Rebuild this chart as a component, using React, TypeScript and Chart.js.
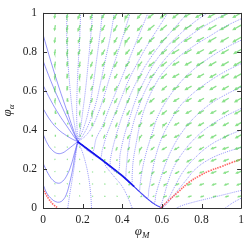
import { useEffect, useRef } from "react";
import { Chart, registerables } from "chart.js";

Chart.register(...registerables);

type P = [number, number];

const X_TICKS = [0, 0.2, 0.4, 0.6, 0.8, 1];
const Y_TICKS = [0, 0.2, 0.4, 0.6, 0.8, 1];
const X_TITLE = ["φ", "M"];
const Y_TITLE = ["φ", "α"];
const FONT = "'Liberation Serif', 'DejaVu Serif', serif";

// slow manifold toward the stable point (0.175, 0.34)
const MANIFOLD: P[] = [[0.6, 0], [0.57, 0.015], [0.53, 0.045], [0.47, 0.1], [0.4, 0.165], [0.3, 0.245], [0.175, 0.34]];
// strongly populated part of the manifold
const MANIFOLD_DARK: P[] = [[0.46, 0.11], [0.4, 0.165], [0.3, 0.245], [0.175, 0.34]];

// trajectories starting on the left edge
const LEFT_TRAJ: P[][] = [
  [[0, 0.122], [0.02, 0.075], [0.045, 0.045], [0.065, 0.032], [0.083, 0.03], [0.1, 0.04], [0.118, 0.07], [0.135, 0.13], [0.15, 0.2], [0.163, 0.28], [0.175, 0.34]],
  [[0, 0.23], [0.025, 0.178], [0.05, 0.142], [0.077, 0.127], [0.1, 0.138], [0.122, 0.17], [0.142, 0.22], [0.16, 0.285], [0.175, 0.34]],
  [[0, 0.38], [0.025, 0.325], [0.05, 0.293], [0.075, 0.279], [0.1, 0.283], [0.125, 0.3], [0.15, 0.32], [0.175, 0.34]],
  [[0, 0.51], [0.04, 0.445], [0.08, 0.4], [0.12, 0.37], [0.15, 0.352], [0.175, 0.34]],
  [[0, 0.63], [0.04, 0.55], [0.08, 0.48], [0.12, 0.42], [0.15, 0.375], [0.175, 0.34]],
  [[0, 0.755], [0.04, 0.65], [0.08, 0.555], [0.12, 0.465], [0.15, 0.395], [0.175, 0.34]],
  [[0, 0.89], [0.04, 0.75], [0.08, 0.62], [0.12, 0.5], [0.15, 0.41], [0.175, 0.34]],
];

// trajectories starting on the top edge
const TOP_TRAJ: P[][] = [
  [[0.12, 1], [0.12, 0.88], [0.125, 0.76], [0.135, 0.63], [0.148, 0.5], [0.162, 0.41], [0.175, 0.34]],
  [[0.19, 1], [0.185, 0.87], [0.178, 0.74], [0.172, 0.6], [0.17, 0.48], [0.172, 0.4], [0.175, 0.34]],
  [[0.25, 1], [0.24, 0.87], [0.228, 0.74], [0.215, 0.61], [0.2, 0.49], [0.188, 0.4], [0.175, 0.34]],
  [[0.3, 1], [0.285, 0.87], [0.268, 0.74], [0.25, 0.61], [0.23, 0.5], [0.205, 0.41], [0.175, 0.34]],
  [[0.36, 1], [0.34, 0.88], [0.315, 0.76], [0.29, 0.64], [0.265, 0.53], [0.235, 0.44], [0.2, 0.37], [0.175, 0.34]],
  [[0.44, 1], [0.41, 0.9], [0.375, 0.79], [0.34, 0.68], [0.31, 0.58], [0.28, 0.49], [0.25, 0.42], [0.215, 0.37], [0.175, 0.34]],
  [[0.53, 1], [0.49, 0.9], [0.45, 0.8], [0.41, 0.7], [0.37, 0.6], [0.33, 0.5], [0.3, 0.42], [0.27, 0.36], [0.245, 0.287]],
  [[0.63, 1], [0.58, 0.92], [0.53, 0.84], [0.48, 0.75], [0.43, 0.65], [0.39, 0.55], [0.35, 0.45], [0.32, 0.37], [0.3, 0.3], [0.285, 0.256]],
  [[0.73, 1], [0.67, 0.93], [0.61, 0.86], [0.55, 0.78], [0.5, 0.7], [0.45, 0.6], [0.41, 0.5], [0.38, 0.41], [0.355, 0.32], [0.34, 0.25], [0.335, 0.217]],
  [[0.83, 1], [0.76, 0.95], [0.69, 0.89], [0.62, 0.82], [0.56, 0.74], [0.51, 0.65], [0.47, 0.56], [0.44, 0.47], [0.41, 0.37], [0.39, 0.28], [0.375, 0.185]],
  [[0.93, 1], [0.86, 0.96], [0.78, 0.91], [0.7, 0.85], [0.63, 0.78], [0.57, 0.7], [0.52, 0.61], [0.48, 0.51], [0.45, 0.41], [0.43, 0.3], [0.42, 0.2], [0.415, 0.151]],
];

// trajectories starting on the right edge (above the separatrix)
const RIGHT_TRAJ: P[][] = [
  [[1, 0.97], [0.92, 0.93], [0.84, 0.88], [0.76, 0.83], [0.68, 0.77], [0.61, 0.7], [0.56, 0.62], [0.52, 0.53], [0.49, 0.43], [0.47, 0.33], [0.455, 0.24], [0.45, 0.17], [0.445, 0.123]],
  [[1, 0.86], [0.92, 0.82], [0.84, 0.77], [0.76, 0.71], [0.69, 0.64], [0.63, 0.56], [0.58, 0.47], [0.55, 0.38], [0.52, 0.28], [0.5, 0.19], [0.49, 0.12], [0.485, 0.086]],
  [[1, 0.74], [0.92, 0.7], [0.84, 0.65], [0.76, 0.59], [0.69, 0.52], [0.64, 0.44], [0.6, 0.36], [0.57, 0.27], [0.55, 0.18], [0.535, 0.1], [0.525, 0.05]],
  [[1, 0.62], [0.92, 0.58], [0.84, 0.53], [0.77, 0.47], [0.71, 0.4], [0.66, 0.32], [0.62, 0.23], [0.59, 0.14], [0.57, 0.07], [0.56, 0.025]],
  [[1, 0.51], [0.92, 0.47], [0.84, 0.42], [0.77, 0.36], [0.71, 0.29], [0.66, 0.21], [0.63, 0.13], [0.61, 0.06], [0.595, 0.015], [0.585, 0.008]],
  [[1, 0.4], [0.92, 0.365], [0.84, 0.32], [0.77, 0.26], [0.71, 0.19], [0.67, 0.12], [0.64, 0.06], [0.615, 0.02], [0.6, 0.005]],
  [[1, 0.31], [0.92, 0.285], [0.84, 0.25], [0.77, 0.2], [0.72, 0.14], [0.68, 0.09], [0.645, 0.045], [0.62, 0.015], [0.605, 0.003]],
];

// trajectories starting on the bottom edge
const BOTTOM_TRAJ: P[][] = [
  [[0.125, 0], [0.135, 0.07], [0.148, 0.15], [0.16, 0.23], [0.168, 0.29], [0.175, 0.34]],
  [[0.245, 0], [0.24, 0.08], [0.228, 0.17], [0.21, 0.25], [0.19, 0.31], [0.175, 0.34]],
  [[0.45, 0], [0.43, 0.05], [0.4, 0.11], [0.36, 0.16], [0.32, 0.21], [0.3, 0.245]],
];

// trajectories below the separatrix, leaving through the bottom
const BELOW_TRAJ: P[][] = [
  [[1, 0.09], [0.92, 0.07], [0.84, 0.05], [0.76, 0.03], [0.7, 0.012], [0.675, 0]],
  [[1, 0.05], [0.96, 0.028], [0.92, 0]],
];

// separatrices (red)
const RED_CURVES: P[][] = [
  [[0, 0.1], [0.015, 0.07], [0.03, 0.045], [0.05, 0.02], [0.075, 0]],
  [[0.595, 0], [0.63, 0.035], [0.68, 0.08], [0.735, 0.13], [0.79, 0.165], [0.84, 0.19], [0.9, 0.212], [0.95, 0.232], [1, 0.25]],
];

// direction field grid
const ARROW_COLS = [0.0625, 0.125, 0.1875, 0.25, 0.3125, 0.375, 0.4375, 0.5, 0.5625, 0.625, 0.6875, 0.75, 0.8125, 0.875, 0.9375, 1];
const ARROW_ROWS = [1, 0.9375, 0.875, 0.8125, 0.75, 0.6875, 0.625, 0.5625, 0.5, 0.4375, 0.375, 0.3125, 0.25, 0.1875, 0.125, 0.0625];
// angle below horizontal (tens of degrees), arrows point down-left
const ARROW_ANGLE = [
  "8877665544433333",
  "8877665544433333",
  "8877665544433333",
  "8877665544333333",
  "8887665544333333",
  "8887765544333333",
  "8887765544333333",
  "8887766544333333",
  "9888766544333333",
  "9988776544333333",
  "9998776543333333",
  "1128876543333222",
  "2229876543332222",
  "2229876443322222",
  "2229876433222222",
  "2229876432222222",
];
// arrow length (px)
const ARROW_LEN = [
  "5566677788889999",
  "5566677788889999",
  "5556667778888999",
  "4555666777888888",
  "4455566677778888",
  "4445556667777788",
  "4444555666777777",
  "3344455566666777",
  "3334445556666677",
  "2233444555566666",
  "2222334455556666",
  "1112233445555566",
  "1111223344455555",
  "1111122334444555",
  "1111112233344444",
  "1111111223333333",
];

const PX = 200; // pixels per data unit (square plot)

function withManifold(pts: P[]): P[] {
  const last = pts[pts.length - 1];
  return pts.concat(MANIFOLD.filter(([mx]) => mx < last[0] - 1e-9));
}

function toXY(pts: P[]) {
  return pts.map(([x, y]) => ({ x, y }));
}

function arrowData() {
  const pts: { x: number; y: number | null }[] = [];
  ARROW_ROWS.forEach((y, r) => {
    ARROW_COLS.forEach((x, c) => {
      const a = (Number(ARROW_ANGLE[r][c]) * 10 * Math.PI) / 180;
      const lp = Number(ARROW_LEN[r][c]);
      const L = lp / PX;
      const hx = x - Math.cos(a) * L;
      const hy = y - Math.sin(a) * L;
      pts.push({ x, y }, { x: hx, y: hy }, { x: hx, y: null });
      if (lp >= 3) {
        const h = Math.min(2.6, lp * 0.4) / PX;
        const b1x = hx + Math.cos(a + 0.45) * h;
        const b1y = hy + Math.sin(a + 0.45) * h;
        const b2x = hx + Math.cos(a - 0.45) * h;
        const b2y = hy + Math.sin(a - 0.45) * h;
        pts.push({ x: b1x, y: b1y }, { x: hx, y: hy }, { x: b2x, y: b2y }, { x: hx, y: null });
      }
    });
  });
  return pts;
}

const framePlugin = {
  id: "frame",
  afterDatasetsDraw(chart: any) {
    const { ctx, chartArea: a, scales } = chart;
    ctx.save();
    ctx.strokeStyle = "#333";
    ctx.lineWidth = 1;
    ctx.beginPath();
    ctx.rect(Math.round(a.left) + 0.5, Math.round(a.top) + 0.5, Math.round(a.right - a.left), Math.round(a.bottom - a.top));
    ctx.stroke();
    const t = 4;
    ctx.beginPath();
    X_TICKS.forEach((v) => {
      const px = Math.round(scales.x.getPixelForValue(v)) + 0.5;
      ctx.moveTo(px, a.bottom);
      ctx.lineTo(px, a.bottom - t);
      ctx.moveTo(px, a.top);
      ctx.lineTo(px, a.top + t);
    });
    Y_TICKS.forEach((v) => {
      const py = Math.round(scales.y.getPixelForValue(v)) + 0.5;
      ctx.moveTo(a.left, py);
      ctx.lineTo(a.left + t, py);
      ctx.moveTo(a.right, py);
      ctx.lineTo(a.right - t, py);
    });
    ctx.stroke();

    // axis titles with subscripts
    ctx.fillStyle = "#222";
    ctx.textBaseline = "alphabetic";
    const cx = (a.left + a.right) / 2;
    ctx.font = `italic 13px ${FONT}`;
    ctx.textAlign = "left";
    const w1 = ctx.measureText(X_TITLE[0]).width;
    ctx.font = `italic 9px ${FONT}`;
    const w2 = ctx.measureText(X_TITLE[1]).width;
    let x0 = cx - (w1 + w2) / 2;
    ctx.font = `italic 13px ${FONT}`;
    ctx.fillText(X_TITLE[0], x0, 235);
    ctx.font = `italic 9px ${FONT}`;
    ctx.fillText(X_TITLE[1], x0 + w1, 238);

    const cy = (a.top + a.bottom) / 2;
    ctx.save();
    ctx.translate(11, cy);
    ctx.rotate(-Math.PI / 2);
    ctx.font = `italic 13px ${FONT}`;
    const v1 = ctx.measureText(Y_TITLE[0]).width;
    ctx.font = `italic 9px ${FONT}`;
    const v2 = ctx.measureText(Y_TITLE[1]).width;
    x0 = -(v1 + v2) / 2;
    ctx.font = `italic 13px ${FONT}`;
    ctx.fillText(Y_TITLE[0], x0, 0);
    ctx.font = `italic 9px ${FONT}`;
    ctx.fillText(Y_TITLE[1], x0 + v1, 3);
    ctx.restore();
    ctx.restore();
  },
};

export default function App() {
  const ref = useRef<HTMLCanvasElement | null>(null);
  useEffect(() => {
    document.body.style.margin = "0";
    const canvas = ref.current!;
    const lineDs = (pts: P[], color: string, width: number, dash: number[], order: number, tension = 0.4) => ({
      data: toXY(pts),
      showLine: true,
      borderColor: color,
      borderWidth: width,
      borderDash: dash,
      pointRadius: 0,
      tension,
      spanGaps: false,
      order,
    });
    const dotted = "rgba(70,70,245,0.55)";
    const datasets: any[] = [];
    datasets.push({
      data: arrowData(),
      showLine: true,
      borderColor: "rgba(60,205,60,0.6)",
      borderWidth: 1.3,
      pointRadius: 0,
      spanGaps: false,
      tension: 0,
      order: 0,
    });
    RED_CURVES.forEach((c) => datasets.push(lineDs(c, "rgba(255,50,50,0.75)", 1.6, [1.5, 1], 1)));
    datasets.push(lineDs(MANIFOLD_DARK, "rgba(10,10,235,0.8)", 1.8, [], 2, 0.2));
    datasets.push(lineDs(MANIFOLD, "rgba(40,40,240,0.5)", 1.1, [], 2, 0.2));
    LEFT_TRAJ.forEach((t) => datasets.push(lineDs(t, "rgba(80,80,245,0.6)", 1, [], 3)));
    BOTTOM_TRAJ.forEach((t) => datasets.push(lineDs(withManifold(t), dotted, 1, [1, 1], 3)));
    TOP_TRAJ.forEach((t) => datasets.push(lineDs(withManifold(t), dotted, 1, [1, 1], 3)));
    RIGHT_TRAJ.forEach((t) => datasets.push(lineDs(withManifold(t), dotted, 1, [1, 1], 3)));
    BELOW_TRAJ.forEach((t) => datasets.push(lineDs(t, dotted, 1, [1, 1], 3)));

    const tickFont = { family: FONT, size: 11.5 };
    const chart = new Chart(canvas, {
      type: "scatter",
      data: { datasets },
      options: {
        animation: false,
        responsive: false,
        events: [],
        layout: { padding: { top: 8, right: 6, left: 0, bottom: 0 } },
        plugins: { legend: { display: false }, tooltip: { enabled: false } },
        scales: {
          x: {
            type: "linear",
            min: 0,
            max: 1,
            afterBuildTicks: (s: any) => {
              s.ticks = X_TICKS.map((v) => ({ value: v }));
            },
            afterFit: (s: any) => {
              s.height = 34;
            },
            grid: { display: false, drawTicks: false },
            border: { display: false },
            ticks: { padding: 5, color: "#222", font: tickFont, maxRotation: 0, autoSkip: false, callback: (v: any) => String(v) },
          },
          y: {
            type: "linear",
            min: 0,
            max: 1,
            afterBuildTicks: (s: any) => {
              s.ticks = Y_TICKS.map((v) => ({ value: v }));
            },
            afterFit: (s: any) => {
              s.width = 43;
            },
            grid: { display: false, drawTicks: false },
            border: { display: false },
            ticks: { padding: 6, color: "#222", font: tickFont, autoSkip: false, callback: (v: any) => String(v) },
          },
        },
      } as any,
      plugins: [framePlugin],
    });
    return () => chart.destroy();
  }, []);
  return (
    <div style={{ width: 249, height: 242 }}>
      <canvas ref={ref} width={249} height={242} style={{ display: "block" }} />
    </div>
  );
}
